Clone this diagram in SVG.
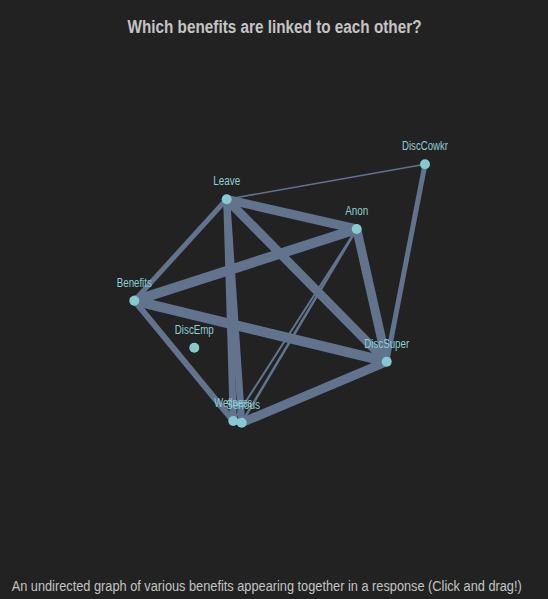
<svg xmlns="http://www.w3.org/2000/svg" width="548" height="599" viewBox="0 0 548 599">
<style>
.bg{fill:#222222}
.title{font-family:"Liberation Sans Narrow","Liberation Sans",Arial,sans-serif;font-weight:bold;font-size:18px;fill:#c4c4c4}
.caption{font-family:"Liberation Sans Narrow","Liberation Sans",Arial,sans-serif;font-size:14px;fill:#c4c4c4}
.link{stroke:#62738d;stroke-linecap:butt;fill:none}
.node circle{fill:#86c9d1}
.node text{font-family:"Liberation Sans Narrow","Liberation Sans",Arial,sans-serif;font-size:12px;fill:#8ccfd6;text-anchor:middle}
</style>
<rect class="bg" x="0" y="0" width="548" height="599"/>
<text class="title" x="274.5" y="33" text-anchor="middle" textLength="294" lengthAdjust="spacingAndGlyphs">Which benefits are linked to each other?</text>
<g id="links">
<line class="link" x1="226.7" y1="199.3" x2="425" y2="164.3" stroke-width="1.5"/>
<line class="link" x1="425" y1="164.3" x2="386.7" y2="361.7" stroke-width="5"/>
<line class="link" x1="226.7" y1="199.3" x2="356.7" y2="229" stroke-width="9"/>
<line class="link" x1="226.7" y1="199.3" x2="386.7" y2="361.7" stroke-width="9"/>
<line class="link" x1="226.7" y1="199.3" x2="134.3" y2="300.7" stroke-width="5"/>
<line class="link" x1="226.7" y1="199.3" x2="233.3" y2="421" stroke-width="7"/>
<line class="link" x1="226.7" y1="199.3" x2="241.7" y2="422.7" stroke-width="7"/>
<line class="link" x1="134.3" y1="300.7" x2="356.7" y2="229" stroke-width="10"/>
<line class="link" x1="134.3" y1="300.7" x2="386.7" y2="361.7" stroke-width="10"/>
<line class="link" x1="134.3" y1="300.7" x2="233.3" y2="421" stroke-width="6"/>
<line class="link" x1="356.7" y1="229" x2="386.7" y2="361.7" stroke-width="9"/>
<line class="link" x1="356.7" y1="229" x2="233.3" y2="421" stroke-width="2"/>
<line class="link" x1="356.7" y1="229" x2="241.7" y2="422.7" stroke-width="2.5"/>
<line class="link" x1="386.7" y1="361.7" x2="241.7" y2="422.7" stroke-width="9"/>
<line class="link" x1="233.3" y1="421" x2="241.7" y2="422.7" stroke-width="4"/>
</g>
<g id="node-DiscCowkr" class="node"><circle cx="425" cy="164.3" r="5"/><text x="425" y="150" textLength="46" lengthAdjust="spacingAndGlyphs">DiscCowkr</text></g>
<g id="node-Leave" class="node"><circle cx="226.7" cy="199.3" r="5"/><text x="226.7" y="185" textLength="27" lengthAdjust="spacingAndGlyphs">Leave</text></g>
<g id="node-Anon" class="node"><circle cx="356.7" cy="229" r="5"/><text x="356.7" y="215" textLength="23" lengthAdjust="spacingAndGlyphs">Anon</text></g>
<g id="node-Benefits" class="node"><circle cx="134.3" cy="300.7" r="5"/><text x="134.3" y="286.5" textLength="35" lengthAdjust="spacingAndGlyphs">Benefits</text></g>
<g id="node-DiscEmp" class="node"><circle cx="194.3" cy="347.7" r="5"/><text x="194.3" y="333.5" textLength="39" lengthAdjust="spacingAndGlyphs">DiscEmp</text></g>
<g id="node-DiscSuper" class="node"><circle cx="386.7" cy="361.7" r="5"/><text x="386.7" y="347.5" textLength="45" lengthAdjust="spacingAndGlyphs">DiscSuper</text></g>
<g id="node-Wellness" class="node"><circle cx="233.3" cy="421" r="5"/><text x="233.3" y="406.5" textLength="38" lengthAdjust="spacingAndGlyphs">Wellness</text></g>
<g id="node-Serious" class="node"><circle cx="241.7" cy="422.7" r="5"/><text x="243" y="408.5" textLength="34" lengthAdjust="spacingAndGlyphs">Serious</text></g>
<g transform="translate(266.7,591) scale(0.82,1)">
<text class="caption" x="0" y="0" text-anchor="middle" textLength="622" lengthAdjust="spacingAndGlyphs">An undirected graph of various benefits appearing together in a response (Click and drag!)</text>
</g>
</svg>
